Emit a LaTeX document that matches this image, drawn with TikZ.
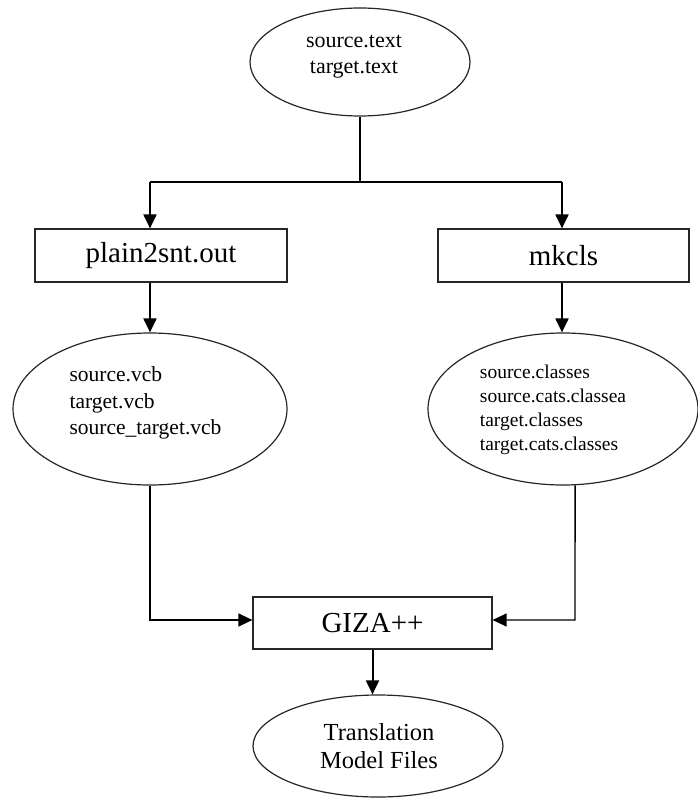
\documentclass[tikz,border=0pt]{standalone}
\usepackage{fontspec}
\setmainfont{Liberation Serif}
\usetikzlibrary{shapes.geometric,arrows.meta}
\begin{document}
\begin{tikzpicture}[x=1pt,y=-1pt,
  fileset/.style={ellipse,draw=black!85,line width=1.2pt,inner sep=0pt},
  toolbox/.style={rectangle,draw=black!85,line width=1.2pt,inner sep=0pt},
  flow/.style={line width=2pt,-{Triangle[length=14pt,width=13pt]}},
  link/.style={line width=1.4pt},
  linkarr/.style={line width=1.4pt,-{Triangle[length=14pt,width=13pt]}}]
\useasboundingbox (0,0) rectangle (697,798);

% input corpus
\node[fileset,minimum width=220pt,minimum height=108pt] (corpus) at (360,62) {};
\node[align=center,font=\fontsize{22}{26}\selectfont] (corpustxt) at (354,57) {source.text\\target.text};

% tools
\node[toolbox,minimum width=252pt,minimum height=53pt,font=\fontsize{29}{34}\selectfont] (plain) at (161,255.5) {plain2snt.out};
\node[toolbox,minimum width=251pt,minimum height=53pt,font=\fontsize{29}{34}\selectfont] (mkcls) at (563.5,255.5) {mkcls};

% vocabulary files
\node[fileset,minimum width=274pt,minimum height=152pt] (vcb) at (150,409) {};
\node[align=left,font=\fontsize{21.5}{26.5}\selectfont] (vcbtxt) at (145.5,403) {source.vcb\\target.vcb\\source\_target.vcb};

% class files
\node[fileset,minimum width=270pt,minimum height=152pt] (cls) at (563,409) {};
\node[align=left,font=\fontsize{19.5}{24}\selectfont] (clstxt) at (553,410) {source.classes\\source.cats.classea\\target.classes\\target.cats.classes};

% aligner and output
\node[toolbox,minimum width=239pt,minimum height=52pt,font=\fontsize{29}{34}\selectfont] (giza) at (372.5,623) {GIZA++};
\node[fileset,minimum width=250pt,minimum height=102pt] (model) at (378,746) {};
\node[align=center,font=\fontsize{24.5}{28}\selectfont] (modeltxt) at (379,746) {Translation\\Model Files};

% split from the corpus
\coordinate (split) at (360,182);
\coordinate (lj) at (150,182);
\coordinate (rj) at (562,182);
\draw[link] (corpus.south) -- (split);
\draw[link] (lj) -- (rj);
\draw[flow] (lj) -- (lj |- plain.north);
\draw[flow] (rj) -- (rj |- mkcls.north);
\draw[flow] (lj |- plain.south) -- (vcb.north);
\draw[flow] (rj |- mkcls.south) -- (rj |- cls.north);

% into GIZA++
\coordinate (lb) at (150,620);
\coordinate (rb) at (575,620);
\draw[linkarr] (vcb.south) -- (lb) -- (lb -| giza.west);
\draw[linkarr] (cls.-81) -- (rb) -- (rb -| giza.east);
\draw[flow] (giza.south) -- (giza.south |- model.north);
\end{tikzpicture}
\end{document}
